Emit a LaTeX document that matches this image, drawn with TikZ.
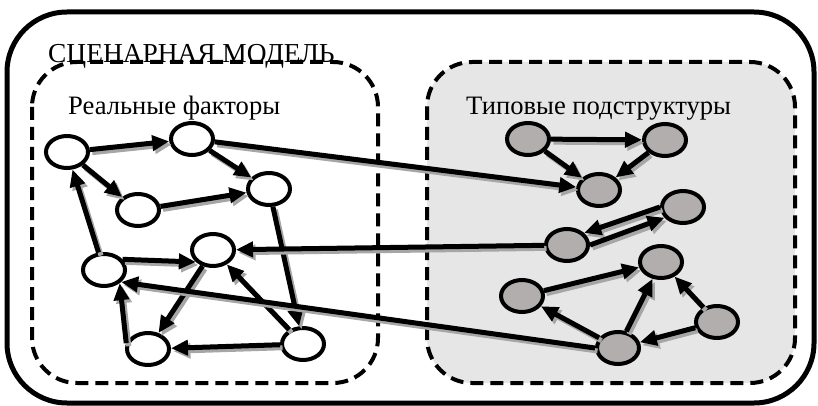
\documentclass[tikz,border=0pt]{standalone}
\usepackage{fontspec}
\setmainfont{Liberation Serif}
\usetikzlibrary{arrows.meta,shapes.geometric}

\definecolor{panelgray}{RGB}{230,230,230}
\definecolor{nodegray}{RGB}{178,174,174}

\tikzset{
  factor/.style={ellipse, draw, line width=4pt, fill=white,
    minimum width=42pt, minimum height=32pt, inner sep=0pt},
  pattern/.style={factor, fill=nodegray},
  link/.style={line width=5pt, -{Triangle[length=17pt,width=15pt]},
    preaction={draw=black!35, line width=5pt,
      transform canvas={shift={(2.5pt,-3pt)}}}},
  groupbox/.style={line width=4pt, dash pattern=on 13pt off 7pt,
    rounded corners=45pt},
  label/.style={font=\fontsize{26.6}{30}\selectfont, inner sep=0pt, anchor=base west}
}

\begin{document}
\begin{tikzpicture}[x=1pt,y=-1pt]
  \useasboundingbox (0,0) rectangle (818,406);

  % outer frame
  \draw[line width=5pt, rounded corners=60pt] (7,12) rectangle (814,403);

  % two groups
  \draw[groupbox] (32,62) rectangle (378,383);
  \draw[groupbox, fill=panelgray] (427,62) rectangle (795,383);

  % headings
  \node[label, font=\fontsize{27.4}{30}\selectfont] (title) at (48,63) {СЦЕНАРНАЯ МОДЕЛЬ};
  \node[label] (realhead) at (68,115) {Реальные факторы};
  \node[label] (typehead) at (466,115) {Типовые подструктуры};

  % real factors
  \node[factor] (A) at (67,152) {};
  \node[factor] (B) at (192,139) {};
  \node[factor] (C) at (269,189) {};
  \node[factor] (D) at (138,210) {};
  \node[factor] (E) at (213,250) {};
  \node[factor] (F) at (104,270) {};
  \node[factor] (G) at (148,349) {};
  \node[factor] (H) at (303,344) {};

  % typical substructures
  \node[pattern] (P1) at (528,139) {};
  \node[pattern] (P2) at (665,140) {};
  \node[pattern] (P3) at (599,190) {};
  \node[pattern] (P4) at (683,207) {};
  \node[pattern] (P5) at (567,245) {};
  \node[pattern] (P6) at (661,262) {};
  \node[pattern] (P7) at (522,296) {};
  \node[pattern] (P8) at (717,322) {};
  \node[pattern] (P9) at (618,348) {};

  % links among real factors
  \draw[link] (A) -- (B);
  \draw[link] (A) -- (D);
  \draw[link] (B) -- (C);
  \draw[link] (D) -- (C);
  \draw[link] (F) -- (A);
  \draw[link] (F.30) -- (E.215);
  \draw[link] (E) -- (G);
  \draw[link] (C) -- (H);
  \draw[link] (H) -- (E);
  \draw[link] (H) -- (G);
  \draw[link] (G.165) -- (F.-40);

  % links among substructures
  \draw[link] (P1) -- (P2);
  \draw[link] (P1) -- (P3);
  \draw[link] (P2) -- (P3);
  \draw[link] (P4.180) -- (P5.35);
  \draw[link] (P5.0) -- (P4.210);
  \draw[link] (P7) -- (P6);
  \draw[link] (P9) -- (P6);
  \draw[link] (P8) -- (P6);
  \draw[link] (P9) -- (P7);
  \draw[link] (P8) -- (P9);

  % links between the groups
  \draw[link] (B) -- (P3);
  \draw[link] (P5) -- (E);
  \draw[link] (P9.180) -- (F.-35);
\end{tikzpicture}
\end{document}
